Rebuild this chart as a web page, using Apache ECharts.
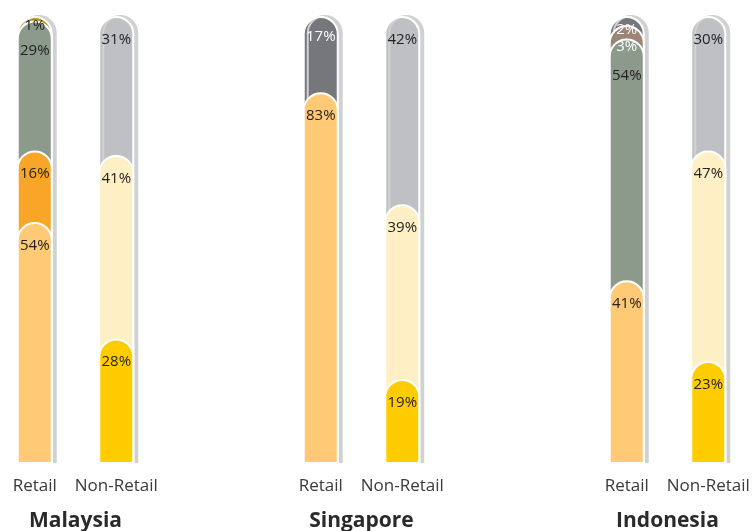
<!DOCTYPE html>
<html><head><meta charset="utf-8">
<script src="https://cdn.jsdelivr.net/npm/echarts@6/dist/echarts.min.js"></script>
<style>html,body{margin:0;padding:0;background:#fff}#c{width:754px;height:531px}</style>
</head><body><div id="c"></div>
<script>
// ---- data (segments listed bottom -> top, in %) ----
const countries = ['Malaysia', 'Singapore', 'Indonesia'];
const barCategories = ['Retail', 'Non-Retail'];
const malaysiaRetail = [54, 16, 29, 1];
const malaysiaNonRetail = [28, 41, 31];
const singaporeRetail = [83, 17];
const singaporeNonRetail = [19, 39, 42];
const indonesiaRetail = [41, 54, 3, 2];
const indonesiaNonRetail = [23, 47, 30];

// ---- styles ----
const C = {
  lightOrange: '#FFC976', orange: '#F9A628', sage: '#8B9A8B', gold: '#B8920C',
  yellow: '#FFCC00', cream: '#FFEFC5', lightGray: '#BFC0C3', darkGray: '#76777B', brown: '#9C8477'
};
const groups = [
  { bars: [
    { segs: malaysiaRetail, colors: [C.lightOrange, C.orange, C.sage, C.gold], dist: [16, 16, 23, 2], txt: ['#222','#222','#222','#222'] },
    { segs: malaysiaNonRetail, colors: [C.yellow, C.cream, C.lightGray], dist: [16, 16, 16], txt: ['#222','#222','#222'] }
  ]},
  { bars: [
    { segs: singaporeRetail, colors: [C.lightOrange, C.darkGray], dist: [16, 13], txt: ['#222', '#fff'] },
    { segs: singaporeNonRetail, colors: [C.yellow, C.cream, C.lightGray], dist: [16, 16, 16], txt: ['#222','#222','#222'] }
  ]},
  { bars: [
    { segs: indonesiaRetail, colors: [C.lightOrange, C.sage, C.brown, C.darkGray], dist: [16, 30, 14, 6], txt: ['#222','#222','#fff','#fff'] },
    { segs: indonesiaNonRetail, colors: [C.yellow, C.cream, C.lightGray], dist: [16, 16, 16], txt: ['#222','#222','#222'] }
  ]}
];
const gridLefts = [-6, 280, 586];
const FONT = 'Open Sans';

const grid = [], xAxis = [], yAxis = [], series = [];
groups.forEach((g, gi) => {
  grid.push({ left: gridLefts[gi], width: 163, top: 16, bottom: 67, containLabel: false, outerBoundsMode: 'none' });
  xAxis.push({
    type: 'category', gridIndex: gi, data: barCategories,
    axisLine: { show: false }, axisTick: { show: false },
    axisLabel: { fontFamily: FONT, fontSize: 17, color: '#3a3a3a', margin: 14, interval: 0, hideOverlap: false },
    name: countries[gi], nameLocation: 'middle', nameGap: 47,
    nameTextStyle: { fontFamily: FONT, fontSize: 21, fontWeight: 'bold', color: '#2a2a2a' }
  });
  yAxis.push({ type: 'value', gridIndex: gi, min: 0, max: 100, show: false });
  g.bars.forEach((bar, bi) => {
    const cum = [];
    bar.segs.reduce((s, v, k) => (cum[k] = s + v), 0);
    for (let k = bar.segs.length - 1; k >= 0; k--) {
      const d = ['-', '-'];
      d[bi] = cum[k];
      const segVal = bar.segs[k];
      const isTop = k === bar.segs.length - 1;
      series.push({
        type: 'bar', xAxisIndex: gi, yAxisIndex: gi, data: d,
        barWidth: 36, barGap: '-100%', animation: false,
        itemStyle: Object.assign({
          color: bar.colors[k], borderColor: '#fff', borderWidth: 2,
          borderRadius: [18, 18, 0, 0]
        }, isTop ? { shadowColor: '#d0d1d3', shadowOffsetX: 4, shadowOffsetY: -1, shadowBlur: 0 } : {}),
        label: {
          show: true, position: 'insideTop', distance: bar.dist[k],
          formatter: () => segVal + '%',
          fontFamily: FONT, fontSize: 15, color: bar.txt[k]
        }
      });
    }
  });
});

const chart = echarts.init(document.getElementById('c'), null, { renderer: 'canvas' });
chart.setOption({ animation: false, grid, xAxis, yAxis, series });
</script>
</body></html>
